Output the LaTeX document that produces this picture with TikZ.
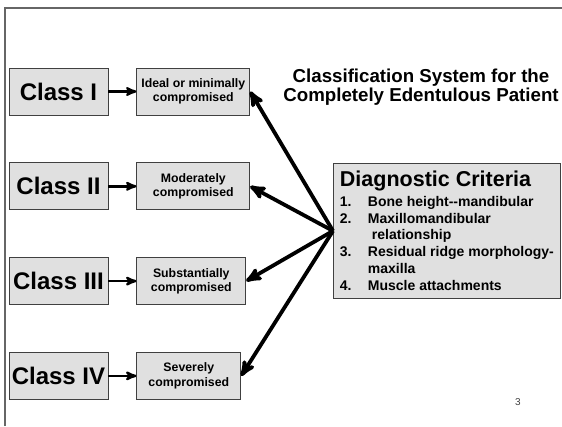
\documentclass[tikz,border=0pt]{standalone}
\usepackage{fontspec}
\setmainfont{Liberation Sans}
\usetikzlibrary{arrows,positioning}

\begin{document}
\begin{tikzpicture}[->,>=stealth',x=1pt,y=-1pt,auto,semithick]
  \tikzstyle{classbox}=[draw=black!75,fill=black!12,line width=0.8pt,minimum width=99pt,minimum height=47pt,inner sep=0pt,font=\fontsize{24}{28}\selectfont\bfseries]
  \tikzstyle{gradebox}=[draw=black!75,fill=black!12,line width=0.8pt,minimum height=47pt,inner sep=2pt,align=center,font=\fontsize{12.3}{14.3}\selectfont\bfseries]
  \tikzstyle{critbox}=[draw=black!75,fill=black!12,line width=0.8pt,minimum width=227pt,minimum height=135pt,align=left,font=\fontsize{14}{16.8}\selectfont\bfseries]
  \tikzstyle{classarrow}=[line width=2.4pt]
  \tikzstyle{critarrow}=[line width=3.8pt]

  \useasboundingbox (0,0) rectangle (562,426);
  \draw[-,black!60,line width=1.5pt] (5,426) -- (5,8) -- (562,8);

  \node[classbox] (c1) at (58.5,91.5) {Class I};
  \node[classbox] (c2) [below=47pt of c1] {Class II};
  \node[classbox] (c3) [below=47pt of c2] {Class III};
  \node[classbox] (c4) [below=47pt of c3] {Class IV};

  \node[gradebox,minimum width=113pt] (g1) [right=28pt of c1] {Ideal or minimally\\compromised};
  \node[gradebox,minimum width=113pt] (g2) [right=28pt of c2] {Moderately\\compromised};
  \node[gradebox,minimum width=109pt] (g3) [right=28pt of c3] {Substantially\\compromised};
  \node[gradebox,minimum width=104pt] (g4) [right=28pt of c4] {Severely\\compromised};

  \node[align=center,font=\fontsize{18.7}{19}\selectfont\bfseries] (title) at (421,87)
    {Classification System for the\\Completely Edentulous Patient};

  \node[critbox,anchor=north west] (crit) at (333,163)
    {{\fontsize{21.5}{22}\selectfont Diagnostic Criteria}\\[2.5pt]
     \makebox[28pt][l]{1.}Bone height-{}-mandibular\\
     \makebox[28pt][l]{2.}Maxillomandibular\\
     \hspace*{32pt}relationship\\
     \makebox[28pt][l]{3.}Residual ridge morphology-\\
     \hspace*{28pt}maxilla\\
     \makebox[28pt][l]{4.}Muscle attachments};

  \node[font=\fontsize{10}{10}\selectfont,text=black!75] (page) at (518,402) {3};

  \path (c1) edge[classarrow] (g1)
        (c2) edge[classarrow] (g2)
        (c3) edge[classarrow] (g3)
        (c4) edge[classarrow] (g4);

  \path (crit.west) edge[critarrow] (g1.east)
        (crit.west) edge[critarrow] (g2.east)
        (crit.west) edge[critarrow] (g3.east)
        (crit.west) edge[critarrow] (g4.east);
\end{tikzpicture}
\end{document}
